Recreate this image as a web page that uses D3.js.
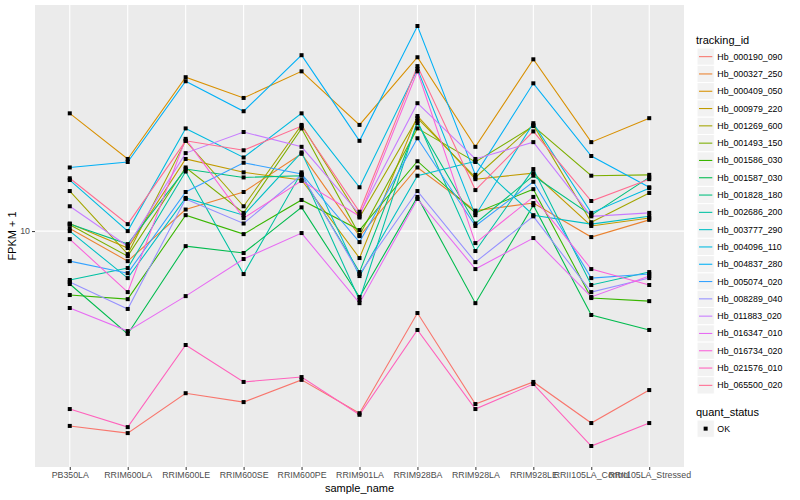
<!DOCTYPE html>
<html lang="en">
<head>
    <meta charset="UTF-8">
    <title>FPKM per sample</title>
    <script src="https://d3js.org/d3.v7.min.js"></script>
    <style>
        body { margin: 0; background: #fff; }
        text { font-family: "Liberation Sans", Arial, sans-serif; }
    </style>
</head>
<body>
    <svg id="chart" width="800" height="500"></svg>

    <script>
        // x categories
        const samples = ["PB350LA", "RRIM600LA", "RRIM600LE", "RRIM600SE", "RRIM600PE", "RRIM901LA",
            "RRIM928BA", "RRIM928LA", "RRIM928LE", "RRII105LA_Control", "RRII105LA_Stressed"];

        const trackingIds = ["Hb_000190_090", "Hb_000327_250", "Hb_000409_050", "Hb_000979_220", "Hb_001269_600",
            "Hb_001493_150", "Hb_001586_030", "Hb_001587_030", "Hb_001828_180", "Hb_002686_200",
            "Hb_003777_290", "Hb_004096_110", "Hb_004837_280", "Hb_005074_020", "Hb_008289_040",
            "Hb_011883_020", "Hb_016347_010", "Hb_016734_020", "Hb_021576_010", "Hb_065500_020"];

        // FPKM + 1, one row per tracking id, one value per sample
        const fpkmPlusOne = [
            [2.24, 2.12, 2.88, 2.69, 3.19, 2.47, 5.33, 2.65, 3.14, 2.29, 2.95],
            [10.2, 7.94, 11.8, 13.5, 18.1, 9.62, 16.3, 11.7, 12.4, 9.55, 10.9],
            [24.7, 17.4, 32.6, 27.8, 34.1, 22.6, 38.0, 19.1, 37.4, 19.8, 23.8],
            [10.6, 8.78, 17.4, 15.7, 14.8, 8.13, 24.2, 14.9, 15.6, 10.4, 11.05],
            [13.6, 8.38, 20.0, 12.1, 22.6, 11.1, 23.8, 15.1, 22.6, 10.7, 13.4],
            [10.5, 8.25, 16.3, 11.5, 22.0, 9.70, 22.0, 17.0, 22.4, 15.3, 15.4],
            [6.12, 5.93, 11.3, 9.77, 12.7, 10.08, 17.1, 11.5, 13.8, 5.98, 5.84],
            [6.66, 4.54, 8.91, 8.45, 12.0, 6.03, 13.0, 5.75, 12.2, 5.25, 4.68],
            [10.55, 9.05, 16.1, 15.1, 15.3, 7.30, 22.9, 10.6, 15.3, 11.3, 15.1],
            [6.87, 7.53, 15.8, 7.19, 15.7, 5.89, 23.3, 8.58, 16.1, 6.61, 7.30],
            [10.0, 6.97, 12.9, 11.3, 18.3, 7.08, 15.3, 17.1, 11.3, 10.55, 11.2],
            [14.8, 10.0, 22.0, 17.6, 24.7, 14.0, 34.7, 11.3, 22.9, 11.5, 13.9],
            [16.3, 17.0, 31.6, 25.1, 38.6, 20.0, 48.3, 15.4, 31.1, 17.8, 14.0],
            [7.94, 7.24, 13.5, 16.9, 15.5, 9.19, 20.4, 10.4, 14.6, 6.97, 7.19],
            [6.76, 5.50, 12.8, 10.6, 15.4, 7.19, 13.6, 7.88, 11.2, 6.26, 6.97],
            [12.1, 8.91, 18.2, 21.4, 19.1, 11.4, 26.7, 17.4, 19.8, 11.2, 11.5],
            [5.54, 4.64, 6.07, 8.07, 9.85, 5.75, 12.8, 7.47, 9.48, 6.03, 7.08],
            [9.40, 6.26, 20.3, 11.05, 14.7, 11.2, 34.1, 9.12, 13.0, 7.47, 6.61],
            [2.55, 2.22, 4.17, 3.14, 3.26, 2.44, 4.68, 2.55, 3.09, 1.92, 2.29],
            [15.0, 10.55, 20.0, 18.6, 22.4, 11.6, 35.5, 13.7, 21.5, 12.6, 14.9]
        ];

        const yTicks = [10];
        const quantStatus = ["OK"];

        // ggplot hue palette for 20 levels
        const palette = ["#F8766D", "#EA8331", "#D89000", "#C09B00", "#A3A500", "#7CAE00", "#39B600", "#00BB4E",
            "#00BF7D", "#00C1A3", "#00BFC4", "#00BAE0", "#00B0F6", "#35A2FF", "#9590FF", "#C77CFF",
            "#E76BF3", "#FA62DB", "#FF62BC", "#FF6C91"];

        const svg = d3.select("#chart");
        const panel = { left: 35, right: 684, top: 5, bottom: 467 };

        const color = d3.scaleOrdinal().domain(trackingIds).range(palette);

        const x = d3.scalePoint()
            .domain(samples)
            .range([panel.left, panel.right])
            .padding(0.6);

        // log scale with 5% expansion each side, like ggplot
        const allVals = fpkmPlusOne.flat();
        const lmin = Math.log10(d3.min(allVals));
        const lmax = Math.log10(d3.max(allVals));
        const pad = (lmax - lmin) * 0.05;
        const y = d3.scaleLog()
            .domain([Math.pow(10, lmin - pad), Math.pow(10, lmax + pad)])
            .range([panel.bottom, panel.top]);

        // panel background + grid
        svg.append("rect")
            .attr("x", panel.left).attr("y", panel.top)
            .attr("width", panel.right - panel.left)
            .attr("height", panel.bottom - panel.top)
            .attr("fill", "#EBEBEB");

        svg.append("g").selectAll("line")
            .data(yTicks)
            .enter().append("line")
            .attr("x1", panel.left).attr("x2", panel.right)
            .attr("y1", d => y(d)).attr("y2", d => y(d))
            .attr("stroke", "#fff").attr("stroke-width", 1.1);

        svg.append("g").selectAll("line")
            .data(samples)
            .enter().append("line")
            .attr("x1", d => x(d)).attr("x2", d => x(d))
            .attr("y1", panel.top).attr("y2", panel.bottom)
            .attr("stroke", "#fff").attr("stroke-width", 1.1);

        // lines
        const series = trackingIds.map((id, i) => ({
            id: id,
            values: samples.map((s, j) => ({ sample: s, v: fpkmPlusOne[i][j] }))
        }));

        const line = d3.line()
            .x(d => x(d.sample))
            .y(d => y(d.v));

        svg.append("g").selectAll("path")
            .data(series)
            .enter().append("path")
            .attr("d", d => line(d.values))
            .attr("fill", "none")
            .attr("stroke", d => color(d.id))
            .attr("stroke-width", 1.07);

        // points (black squares)
        svg.append("g").selectAll("rect")
            .data(series.flatMap(d => d.values))
            .enter().append("rect")
            .attr("x", d => x(d.sample) - 2)
            .attr("y", d => y(d.v) - 2)
            .attr("width", 4).attr("height", 4)
            .attr("fill", "#000");

        // y axis
        const yAxis = svg.append("g")
            .attr("transform", `translate(${panel.left},0)`)
            .call(d3.axisLeft(y).tickValues(yTicks).tickFormat(d3.format("d")).tickSize(3).tickPadding(2));
        yAxis.select(".domain").remove();
        yAxis.selectAll("line").attr("stroke", "#333");
        yAxis.selectAll("text").attr("fill", "#4D4D4D").style("font-size", "8.8px")
            .style("font-family", "Liberation Sans, Arial, sans-serif");

        // x axis
        const xAxis = svg.append("g")
            .attr("transform", `translate(0,${panel.bottom})`)
            .call(d3.axisBottom(x).tickSize(3).tickPadding(2));
        xAxis.select(".domain").remove();
        xAxis.selectAll("line").attr("stroke", "#333");
        xAxis.selectAll("text").attr("fill", "#4D4D4D").style("font-size", "8.8px")
            .style("font-family", "Liberation Sans, Arial, sans-serif");

        // axis titles
        svg.append("text")
            .attr("x", (panel.left + panel.right) / 2)
            .attr("y", 492)
            .attr("text-anchor", "middle")
            .style("font-size", "11px")
            .text("sample_name");

        svg.append("text")
            .attr("transform", `translate(16,${(panel.top + panel.bottom) / 2})rotate(-90)`)
            .attr("text-anchor", "middle")
            .style("font-size", "11px")
            .text("FPKM + 1");

        // legend: tracking_id
        const keyH = 17.3;
        const legendG = svg.append("g").attr("transform", "translate(696,0)");

        legendG.append("text")
            .attr("x", 0).attr("y", 44)
            .style("font-size", "11px")
            .text("tracking_id");

        const items = legendG.selectAll("g.item")
            .data(trackingIds)
            .enter().append("g")
            .attr("class", "item")
            .attr("transform", (d, i) => `translate(1,${48 + i * keyH})`);

        items.append("rect")
            .attr("width", keyH).attr("height", keyH)
            .attr("fill", "#F2F2F2").attr("stroke", "#fff");

        items.append("line")
            .attr("x1", 2).attr("x2", keyH - 2)
            .attr("y1", keyH / 2).attr("y2", keyH / 2)
            .attr("stroke", d => color(d)).attr("stroke-width", 1.07);

        items.append("text")
            .attr("x", keyH + 3).attr("y", keyH / 2 + 3)
            .style("font-size", "8.8px")
            .text(d => d);

        // legend: quant_status
        legendG.append("text")
            .attr("x", 0).attr("y", 416)
            .style("font-size", "11px")
            .text("quant_status");

        const qItems = legendG.selectAll("g.qitem")
            .data(quantStatus)
            .enter().append("g")
            .attr("class", "qitem")
            .attr("transform", (d, i) => `translate(1,${420 + i * keyH})`);

        qItems.append("rect")
            .attr("width", keyH).attr("height", keyH)
            .attr("fill", "#F2F2F2").attr("stroke", "#fff");

        qItems.append("rect")
            .attr("x", keyH / 2 - 2).attr("y", keyH / 2 - 2)
            .attr("width", 4).attr("height", 4)
            .attr("fill", "#000");

        qItems.append("text")
            .attr("x", keyH + 3).attr("y", keyH / 2 + 3)
            .style("font-size", "8.8px")
            .text(d => d);
    </script>
</body>
</html>
